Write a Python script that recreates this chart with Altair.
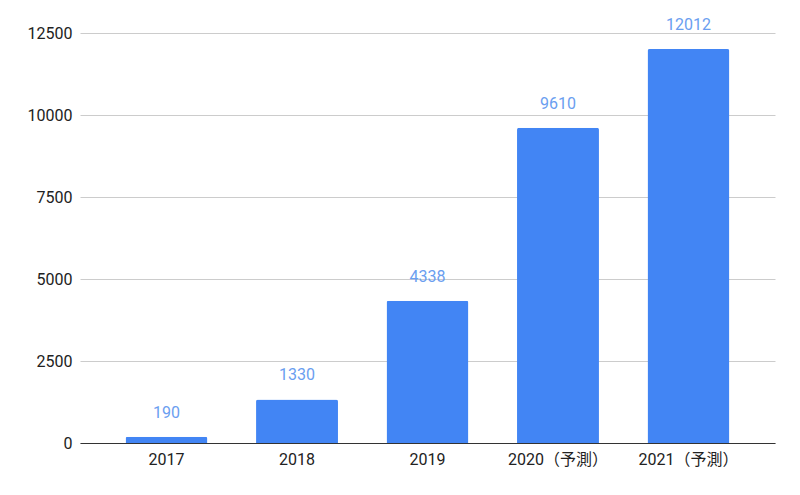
import altair as alt
import pandas as pd

years = ["2017", "2018", "2019", "2020（予測）", "2021（予測）"]
values = [190, 1330, 4338, 9610, 12012]

df = pd.DataFrame({"year": years, "value": values})

FONT = "Roboto, 'Noto Sans CJK JP', sans-serif"

base = alt.Chart(df).encode(
    x=alt.X("year:N", sort=years,
            scale=alt.Scale(paddingInner=0.372, paddingOuter=0.349),
            axis=alt.Axis(title=None, labelAngle=0, labelFontSize=16, labelColor="#222222",
                          labelFont=FONT, domainColor="#333333", ticks=False, labelPadding=8)),
    y=alt.Y("value:Q", scale=alt.Scale(domain=[0, 12500], nice=False),
            axis=alt.Axis(title=None, values=[0, 2500, 5000, 7500, 10000, 12500], format="d",
                          labelFontSize=16, labelColor="#222222", labelFont=FONT,
                          gridColor="#cccccc", domain=False, ticks=False, labelPadding=8)),
)

bars = base.mark_bar(color="#4285F4", cornerRadiusTopLeft=2, cornerRadiusTopRight=2)
labels = base.mark_text(dy=-19, baseline="alphabetic", fontSize=16, color="#6a9ef0", font=FONT).encode(
    text="value:Q")

chart = (bars + labels).properties(
    width=695, height=410,
    autosize=alt.AutoSizeParams(type="none"),
    padding={"left": 72, "top": 25, "right": 17, "bottom": 44},
).configure_view(stroke=None)

chart.save("out.html", embed_options={"renderer": "svg", "actions": False})
